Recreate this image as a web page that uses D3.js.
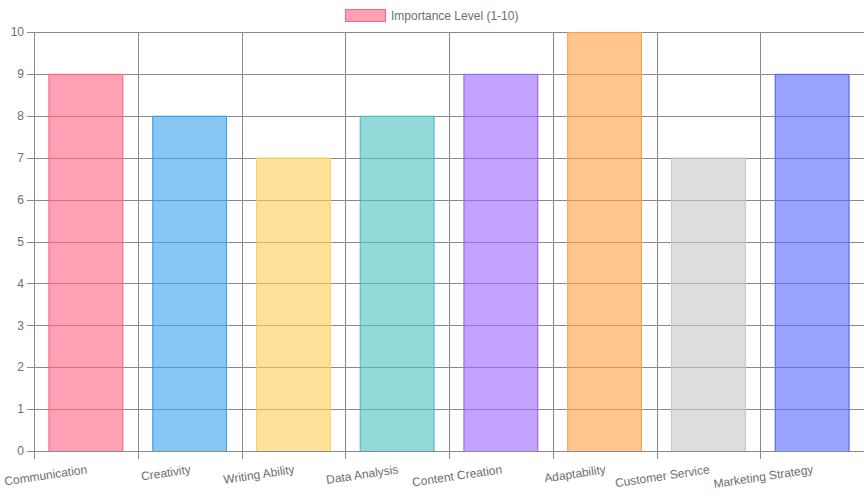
<!DOCTYPE html>
<html>
<head>
<meta charset="utf-8">
<script src="https://cdn.jsdelivr.net/npm/d3@7"></script>
<style>
html,body{margin:0;padding:0;background:#fff;}
svg{display:block;font-family:"Liberation Sans",Arial,Helvetica,sans-serif;}
</style>
</head>
<body>
<svg id="chart" width="864" height="500"></svg>
<script>
const categories = ["Communication","Creativity","Writing Ability","Data Analysis","Content Creation","Adaptability","Customer Service","Marketing Strategy"];
const values = [9, 8, 7, 8, 9, 10, 7, 9];
const seriesName = "Importance Level (1-10)";
const yTicks = [0,1,2,3,4,5,6,7,8,9,10];
const fills = ["rgba(255,99,132,0.6)","rgba(54,162,235,0.6)","rgba(255,206,86,0.6)","rgba(75,192,192,0.6)","rgba(153,102,255,0.6)","rgba(255,159,64,0.6)","rgba(199,199,199,0.6)","rgba(83,102,255,0.6)"];
const borders = ["rgb(255,99,132)","rgb(54,162,235)","rgb(255,206,86)","rgb(75,192,192)","rgb(153,102,255)","rgb(255,159,64)","rgb(199,199,199)","rgb(83,102,255)"];

const svg = d3.select("#chart");
const L = 34, R = 864, T = 32, B = 451;
const grid = "#8a8a8a";
const textCol = "#6e6e6e";

const x = d3.scaleBand().domain(categories).range([L, R]).paddingInner(0).paddingOuter(0);
const y = d3.scaleLinear().domain([0, 10]).range([B, T]);

// horizontal gridlines
svg.append("g").selectAll("line").data(yTicks).join("line")
  .attr("x1", L - 7).attr("x2", R)
  .attr("y1", d => Math.round(y(d)) + 0.5).attr("y2", d => Math.round(y(d)) + 0.5)
  .attr("stroke", grid).attr("stroke-width", 1);

// vertical gridlines (category boundaries)
const bounds = categories.map(c => x(c));
svg.append("g").selectAll("line").data(bounds).join("line")
  .attr("x1", d => Math.round(d) + 0.5).attr("x2", d => Math.round(d) + 0.5)
  .attr("y1", T).attr("y2", B + 8)
  .attr("stroke", grid).attr("stroke-width", 1);

// y labels
svg.append("g").selectAll("text").data(yTicks).join("text")
  .attr("x", 24).attr("y", d => y(d))
  .attr("dy", "0.35em").attr("text-anchor", "end")
  .attr("font-size", 12).attr("fill", textCol)
  .text(d => d);

// bars
const bw = x.bandwidth() * 0.72;
const bars = svg.append("g").selectAll("g").data(categories).join("g");
bars.append("rect")
  .attr("x", (d) => x(d) + (x.bandwidth() - bw) / 2)
  .attr("width", bw)
  .attr("y", (d, i) => y(values[i]))
  .attr("height", (d, i) => B - y(values[i]))
  .attr("fill", (d, i) => fills[i]);
bars.append("path")
  .attr("d", (d, i) => {
    const x0 = x(d) + (x.bandwidth() - bw) / 2 + 0.5, x1 = x0 + bw - 1;
    const yt = y(values[i]) + 0.5;
    return `M${x0},${B}V${yt}H${x1}V${B}`;
  })
  .attr("fill", "none")
  .attr("stroke", (d, i) => borders[i]).attr("stroke-width", 1);

// x labels rotated
svg.append("g").selectAll("text").data(categories).join("text")
  .attr("transform", d => `translate(${x(d) + x.bandwidth() / 2 + 1},${469}) rotate(-8.5)`)
  .attr("text-anchor", "end").attr("dy", "0.35em")
  .attr("font-size", 12).attr("fill", textCol)
  .text(d => d);

// legend
const lg = svg.append("g");
lg.append("rect").attr("x", 345.5).attr("y", 9.5).attr("width", 40).attr("height", 12)
  .attr("fill", fills[0]).attr("stroke", borders[0]).attr("stroke-width", 1);
lg.append("text").attr("x", 391).attr("y", 15.5).attr("dy", "0.35em")
  .attr("font-size", 12).attr("fill", textCol).text(seriesName);
</script>
</body>
</html>
